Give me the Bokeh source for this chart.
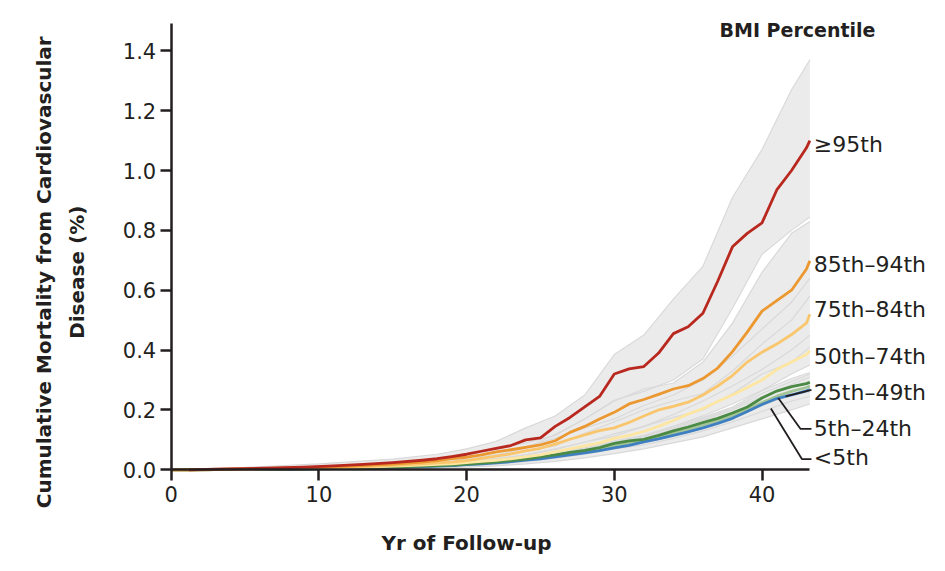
import numpy as np
from bokeh.plotting import figure
from bokeh.models import Range1d, FixedTicker, NumeralTickFormatter, Label
from bokeh.embed import file_html
from bokeh.resources import INLINE

# years of follow-up for the cumulative-mortality curves
years = [0, 1.2, 3, 5, 7, 9, 11, 13, 15, 17, 18, 19, 20, 21, 22, 23, 24, 25, 26,
         27, 28, 29, 30, 31, 32, 33, 34, 35, 36, 37, 38, 39, 40, 41, 42, 43, 43.24]

# cumulative mortality (%) by BMI percentile group
cum_ge95 = [np.nan, 0.000, 0.002, 0.004, 0.006, 0.009, 0.013, 0.018, 0.024, 0.032,
            0.037, 0.044, 0.052, 0.062, 0.072, 0.081, 0.100, 0.107, 0.145, 0.175,
            0.210, 0.245, 0.320, 0.337, 0.345, 0.390, 0.455, 0.478, 0.523, 0.630,
            0.745, 0.790, 0.825, 0.935, 1.000, 1.075, 1.100]
cum_85_94 = [0, 0.000, 0.001, 0.003, 0.005, 0.007, 0.010, 0.014, 0.019, 0.026,
             0.031, 0.037, 0.042, 0.050, 0.060, 0.067, 0.075, 0.083, 0.097, 0.125,
             0.145, 0.170, 0.192, 0.220, 0.235, 0.252, 0.270, 0.281, 0.305, 0.340,
             0.395, 0.460, 0.530, 0.565, 0.600, 0.670, 0.698]
cum_75_84 = [0, 0, 0.001, 0.002, 0.004, 0.006, 0.008, 0.011, 0.015, 0.020,
             0.023, 0.026, 0.031, 0.038, 0.046, 0.053, 0.063, 0.072, 0.086, 0.102,
             0.117, 0.131, 0.140, 0.158, 0.180, 0.200, 0.212, 0.226, 0.250, 0.280,
             0.315, 0.360, 0.393, 0.420, 0.452, 0.490, 0.520]
cum_50_74 = [0, 0, 0.0005, 0.0015, 0.003, 0.005, 0.007, 0.009, 0.012, 0.016,
             0.018, 0.020, 0.024, 0.028, 0.032, 0.037, 0.043, 0.050, 0.060, 0.070,
             0.080, 0.090, 0.105, 0.115, 0.128, 0.145, 0.165, 0.186, 0.205, 0.228,
             0.250, 0.275, 0.300, 0.335, 0.360, 0.385, 0.398]
cum_25_49 = [0, 0, 0.0005, 0.001, 0.002, 0.003, 0.005, 0.007, 0.009, 0.012,
             0.014, 0.016, 0.019, 0.022, 0.026, 0.031, 0.036, 0.043, 0.050, 0.058,
             0.065, 0.074, 0.088, 0.097, 0.102, 0.115, 0.130, 0.143, 0.158, 0.172,
             0.190, 0.210, 0.240, 0.263, 0.278, 0.288, 0.292]
cum_5_24 = [0, 0, 0.0004, 0.001, 0.002, 0.003, 0.004, 0.006, 0.008, 0.011,
            0.013, 0.015, 0.018, 0.021, 0.025, 0.029, 0.034, 0.040, 0.047, 0.054,
            0.061, 0.069, 0.080, 0.090, 0.098, 0.109, 0.122, 0.135, 0.150, 0.164,
            0.181, 0.202, 0.225, 0.246, 0.262, 0.275, 0.280]
cum_lt5 = [0, 0, 0.0005, 0.001, 0.002, 0.003, 0.004, 0.006, 0.008, 0.011,
           0.012, 0.014, 0.017, 0.020, 0.023, 0.027, 0.032, 0.037, 0.043, 0.050,
           0.057, 0.064, 0.073, 0.082, 0.093, 0.103, 0.115, 0.127, 0.140, 0.155,
           0.172, 0.195, 0.218, 0.238, 0.250, 0.264, 0.268]

# 95% confidence bands
band_years = [0, 5, 10, 15, 18, 20, 22, 24, 26, 28, 30, 32, 34, 36, 38, 40, 42, 43.24]
hi_ge95 = [0, 0.008, 0.020, 0.036, 0.052, 0.070, 0.095, 0.140, 0.180, 0.250, 0.385,
           0.450, 0.570, 0.680, 0.910, 1.070, 1.270, 1.370]
lo_ge95 = [0, 0.000, 0.004, 0.014, 0.024, 0.034, 0.050, 0.072, 0.118, 0.170, 0.232,
           0.262, 0.300, 0.370, 0.540, 0.720, 0.800, 0.845]
hi_85_94 = [0, 0.005, 0.012, 0.025, 0.038, 0.050, 0.070, 0.090, 0.115, 0.170, 0.230,
            0.270, 0.290, 0.360, 0.490, 0.660, 0.790, 0.830]
lo_85_94 = [0, 0.001, 0.006, 0.014, 0.024, 0.034, 0.050, 0.062, 0.080, 0.122, 0.160,
            0.200, 0.230, 0.255, 0.330, 0.420, 0.500, 0.580]
hi_75_84 = [0, 0.004, 0.010, 0.020, 0.030, 0.040, 0.058, 0.078, 0.105, 0.140, 0.170,
            0.215, 0.250, 0.300, 0.380, 0.470, 0.560, 0.640]
lo_75_84 = [0, 0.001, 0.004, 0.010, 0.016, 0.022, 0.035, 0.050, 0.068, 0.093, 0.112,
            0.145, 0.175, 0.200, 0.255, 0.320, 0.360, 0.410]
hi_50_74 = [0, 0.003, 0.007, 0.015, 0.022, 0.028, 0.038, 0.050, 0.070, 0.092, 0.120,
            0.145, 0.185, 0.230, 0.280, 0.335, 0.400, 0.450]
lo_50_74 = [0, 0.0005, 0.003, 0.008, 0.014, 0.019, 0.026, 0.037, 0.050, 0.068, 0.090,
            0.110, 0.145, 0.180, 0.220, 0.265, 0.320, 0.350]
hi_25_49 = [0, 0.002, 0.005, 0.011, 0.016, 0.022, 0.030, 0.041, 0.057, 0.073, 0.097,
            0.115, 0.145, 0.175, 0.210, 0.265, 0.305, 0.325]
lo_25_49 = [0, 0.0003, 0.002, 0.006, 0.011, 0.015, 0.021, 0.031, 0.043, 0.057, 0.079,
            0.090, 0.115, 0.140, 0.170, 0.215, 0.250, 0.260]
hi_5_24 = [0, 0.002, 0.005, 0.010, 0.015, 0.020, 0.028, 0.039, 0.053, 0.069, 0.090,
           0.108, 0.135, 0.165, 0.200, 0.245, 0.285, 0.310]
lo_5_24 = [0, 0.0003, 0.002, 0.005, 0.009, 0.013, 0.019, 0.028, 0.039, 0.052, 0.070,
           0.083, 0.105, 0.130, 0.160, 0.195, 0.230, 0.245]
hi_lt5 = [0, 0.003, 0.007, 0.013, 0.019, 0.025, 0.033, 0.043, 0.057, 0.073, 0.093,
          0.115, 0.140, 0.170, 0.205, 0.255, 0.295, 0.320]
lo_lt5 = [0, 0.000, 0.001, 0.003, 0.006, 0.009, 0.013, 0.020, 0.028, 0.040, 0.054,
          0.070, 0.090, 0.110, 0.140, 0.170, 0.200, 0.220]

x_ticks = [0, 10, 20, 30, 40]
y_ticks = [0.0, 0.2, 0.4, 0.6, 0.8, 1.0, 1.2, 1.4]

TEXT = "#231F20"
BAND_FILL = "#EBEBEB"
BAND_EDGE = "#D9D9D9"
FONT = "DejaVu Sans"

# drawn bottom to top
groups = [
    ("5th\u201324th", cum_5_24, lo_5_24, hi_5_24, "#A3C596"),
    ("<5th", cum_lt5, lo_lt5, hi_lt5, "#3E7FC1"),
    ("25th\u201349th", cum_25_49, lo_25_49, hi_25_49, "#4A8A45"),
    ("50th\u201374th", cum_50_74, lo_50_74, hi_50_74, "#FDE6A2"),
    ("75th\u201384th", cum_75_84, lo_75_84, hi_75_84, "#F9C66E"),
    ("85th\u201394th", cum_85_94, lo_85_94, hi_85_94, "#EC9830"),
    ("\u226595th", cum_ge95, lo_ge95, hi_ge95, "#B9281E"),
]

label_y = {
    "\u226595th": 1.088,
    "85th\u201394th": 0.687,
    "75th\u201384th": 0.535,
    "50th\u201374th": 0.379,
    "25th\u201349th": 0.259,
    "5th\u201324th": 0.137,
    "<5th": 0.040,
}

leaders = [
    ([43.35, 41.6], [0.267, 0.245]),
    ([43.35, 42.6, 41.1], [0.137, 0.137, 0.240]),
    ([43.35, 42.7, 40.6], [0.036, 0.036, 0.205]),
]

X_END = years[-1]
Y_TOP = 1.49

# the frame fills the whole canvas so that the texts beside the axes are not clipped;
# the axes sit at fixed data locations with bounds
p = figure(
    width=929,
    height=555,
    x_range=Range1d(-11.557, 51.34),
    y_range=Range1d(-0.2863, 1.568),
    toolbar_location=None,
    tools="",
    output_backend="svg",
    min_border=0,
)
p.outline_line_color = None
p.xgrid.visible = False
p.ygrid.visible = False

for name, vals, lo, hi, colour in groups:
    p.varea(x=band_years, y1=lo, y2=hi, fill_color=BAND_FILL)
for name, vals, lo, hi, colour in groups:
    p.line(band_years, lo, line_color=BAND_EDGE, line_width=1.2)
    p.line(band_years, hi, line_color=BAND_EDGE, line_width=1.2)
for name, vals, lo, hi, colour in groups:
    p.line(np.array(years), np.array(vals, dtype=float), line_color=colour,
           line_width=2.8, line_join="round")

for xs, ys in leaders:
    p.line(xs, ys, line_color=TEXT, line_width=1.8)

for name, vals, lo, hi, colour in groups:
    p.add_layout(Label(
        x=X_END, y=label_y[name], text=name, x_offset=4,
        text_font=FONT, text_font_size="22px", text_color=TEXT,
        text_baseline="middle",
    ))

p.add_layout(Label(
    x=47.68, y=1.471, text="BMI Percentile", text_align="right",
    text_baseline="middle", text_font=FONT, text_font_style="bold",
    text_font_size="19px", text_color=TEXT,
))

# y-axis title, two centred lines
for x_pos, line in [(-8.58, "Cumulative Mortality from Cardiovascular"),
                    (-6.41, "Disease (%)")]:
    p.add_layout(Label(
        x=x_pos, y=0.66, text=line, angle=np.pi / 2, text_align="center",
        text_baseline="middle", text_font=FONT, text_font_style="bold",
        text_font_size="20px", text_color=TEXT,
    ))

p.add_layout(Label(
    x=20.0, y=-0.246, text="Yr of Follow-up", text_align="center",
    text_baseline="middle", text_font=FONT, text_font_style="bold",
    text_font_size="20px", text_color=TEXT,
))

p.xaxis.fixed_location = 0
p.yaxis.fixed_location = 0
p.xaxis.bounds = (0, X_END)
p.yaxis.bounds = (0, Y_TOP)
p.xaxis.ticker = FixedTicker(ticks=x_ticks)
p.yaxis.ticker = FixedTicker(ticks=y_ticks)
p.yaxis.formatter = NumeralTickFormatter(format="0.0")
for ax in (p.xaxis, p.yaxis):
    ax.axis_line_color = TEXT
    ax.axis_line_width = 2.5
    ax.major_tick_line_color = TEXT
    ax.major_tick_line_width = 2.5
    ax.major_tick_out = 11
    ax.major_tick_in = 0
    ax.minor_tick_out = 0
    ax.minor_tick_in = 0
    ax.major_label_text_font = FONT
    ax.major_label_text_font_size = "21px"
    ax.major_label_text_color = TEXT
p.xaxis.major_label_standoff = 5
p.yaxis.major_label_standoff = 4

open("out.html", "w").write(file_html(p, INLINE))
